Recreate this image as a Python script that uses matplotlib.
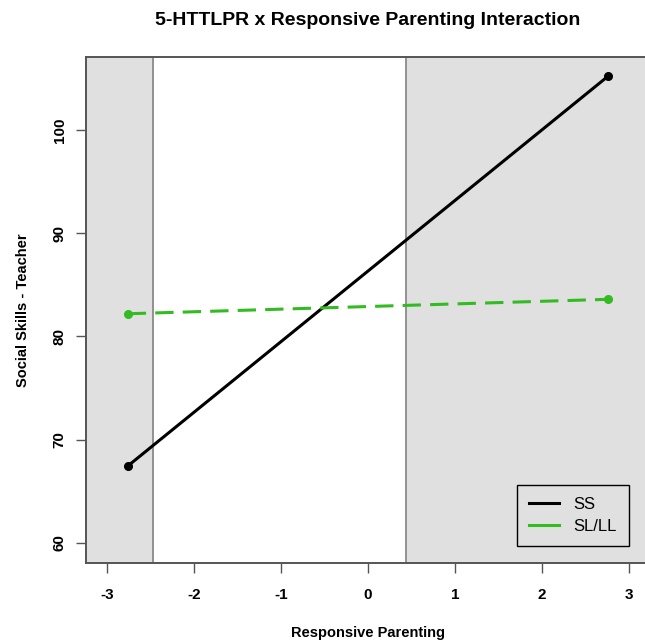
import matplotlib
matplotlib.use("Agg")
import matplotlib.pyplot as plt
from matplotlib.lines import Line2D

plt.rcParams['font.family'] = ['Liberation Sans', 'DejaVu Sans']

x_vals = [-2.76, 2.76]
ss_vals = [67.45, 105.2]
sl_vals = [82.2, 83.6]
region_left = -2.47
region_right = 0.44
xticks = [-3, -2, -1, 0, 1, 2, 3]
yticks = [60, 70, 80, 90, 100]
title = "5-HTTLPR x Responsive Parenting Interaction"
xlabel = "Responsive Parenting"
ylabel = "Social Skills - Teacher"
series_names = ["SS", "SL/LL"]

fig = plt.figure(figsize=(6.45, 6.44), dpi=100)
ax = fig.add_axes([0.1333, 0.1258, 0.874, 0.7857])
xlim = (-3.24, 3.24)
ylim = (58.06, 107.07)
ax.set_xlim(*xlim)
ax.set_ylim(*ylim)

shade = "#e0e0e0"
ax.axvspan(xlim[0], region_left, color=shade, zorder=0, lw=0)
ax.axvspan(region_right, xlim[1], color=shade, zorder=0, lw=0)
ax.axvline(region_left, color="#8a8a8a", lw=1.3, zorder=1)
ax.axvline(region_right, color="#8a8a8a", lw=1.3, zorder=1)

ax.plot(x_vals, ss_vals, color="black", lw=2.2, zorder=3)
ax.plot(x_vals, ss_vals, "o", color="black", ms=5.5, zorder=4)
ax.plot(x_vals, sl_vals, color="#33bb22", lw=2.2, dashes=(6, 3), zorder=3)
ax.plot(x_vals, sl_vals, "o", color="#33bb22", ms=5.5, zorder=4)

for s in ax.spines.values():
    s.set_color("#555555")
    s.set_linewidth(1.4)

ax.set_xticks(xticks)
ax.set_yticks(yticks)
ax.set_xticklabels([str(t) for t in xticks], fontweight="bold", fontsize=11)
ax.set_yticklabels([str(t) for t in yticks], fontweight="bold", fontsize=11,
                   rotation=90, va="center")
ax.tick_params(axis="both", length=7, width=1, color="#555555")
ax.tick_params(axis="x", pad=11)
ax.tick_params(axis="y", pad=7)

ax.set_xlabel(xlabel, fontweight="bold", fontsize=10.5, labelpad=17)
ax.set_ylabel(ylabel, fontweight="bold", fontsize=10.5, labelpad=16)
ax.set_title(title, fontweight="bold", fontsize=14, pad=23)

handles = [Line2D([0], [0], color="black", lw=2.2),
           Line2D([0], [0], color="#33bb22", lw=2.2)]
leg = ax.legend(handles, series_names, loc="lower right",
                bbox_to_anchor=(0.964, 0.033), frameon=True, fancybox=False,
                facecolor="none", edgecolor="black", fontsize=12,
                handlelength=1.8, borderpad=0.75, labelspacing=0.4,
                handletextpad=0.85, borderaxespad=0)
leg.get_frame().set_linewidth(1.0)
leg.get_frame().set_alpha(None)

fig.savefig("out.png", dpi=100)
